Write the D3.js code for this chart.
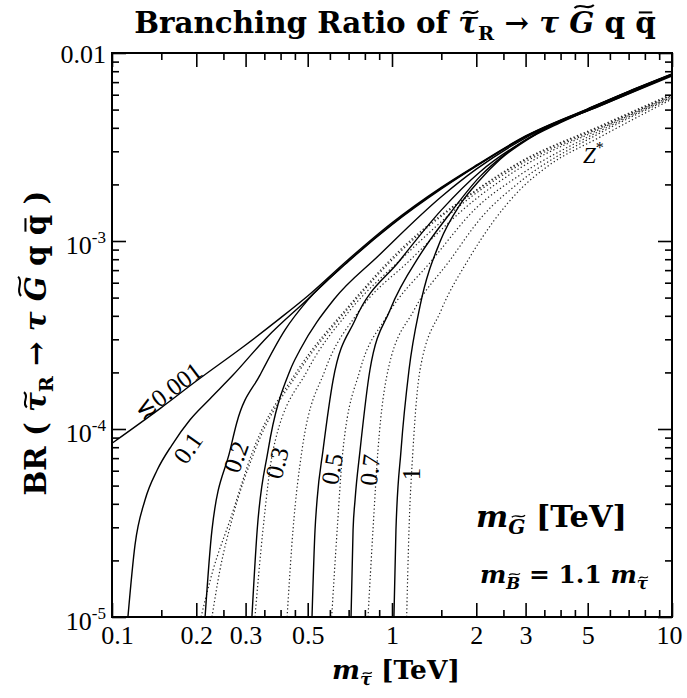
<!DOCTYPE html>
<html>
<head>
<meta charset="utf-8">
<script src="https://cdn.jsdelivr.net/npm/d3@7"></script>
<style>
  body { margin: 0; background: #fff; }
  text { fill: #000; }
</style>
</head>
<body>
<svg id="chart" width="687" height="698"></svg>
<script>
// ---- axis ticks ----
const xMajorTicks = [0.1, 0.2, 0.3, 0.5, 1, 2, 3, 5, 10];
const xTickLabels = ["0.1", "0.2", "0.3", "0.5", "1", "2", "3", "5", "10"];
const xMinorTicks = [0.15, 0.25, 0.35, 0.4, 0.45, 0.6, 0.7, 0.8, 0.9, 1.5, 2.5, 3.5, 4, 4.5, 6, 7, 8, 9];
const yMajorTicks = [1e-5, 1e-4, 1e-3, 1e-2];
const yTickBase = ["10", "10", "10", "0.01"];
const yTickExp = ["-5", "-4", "-3", ""];
const yMinorTicks = [2e-5, 3e-5, 4e-5, 5e-5, 6e-5, 7e-5, 8e-5, 9e-5,
                     2e-4, 3e-4, 4e-4, 5e-4, 6e-4, 7e-4, 8e-4, 9e-4,
                     2e-3, 3e-3, 4e-3, 5e-3, 6e-3, 7e-3, 8e-3, 9e-3];

// ---- gravitino masses (TeV) labelling each pair of curves ----
const gravitinoLabels = ["\u22720.001", "0.1", "0.2", "0.3", "0.5", "0.7", "1"];

// ---- total BR(stau_R -> tau G q qbar): [m_stau (TeV), BR] ----
const totalLe0001 = [[0.1, 8.4e-5], [0.15, 1.3e-4], [0.2, 1.8e-4], [0.3, 2.8e-4], [0.4, 3.9e-4], [0.5, 5.1e-4],
  [0.7, 8.0e-4], [1, 1.25e-3], [1.5, 1.93e-3], [2, 2.53e-3], [3, 3.62e-3], [5, 5.05e-3], [7, 6.25e-3], [10, 7.73e-3]];
const total01 = [[0.114, 1e-5], [0.1208, 2.41e-5], [0.1312, 4.19e-5], [0.145, 6.05e-5], [0.1637, 8.22e-5],
  [0.19, 1.12e-4], [0.224, 1.45e-4], [0.27, 1.93e-4], [0.358, 3.08e-4], [0.5, 4.9e-4], [0.7, 7.85e-4],
  [1, 1.23e-3], [1.5, 1.91e-3], [2, 2.51e-3], [3, 3.6e-3], [5, 5.03e-3], [7, 6.23e-3], [10, 7.71e-3]];
const total02 = [[0.215, 1e-5], [0.2275, 2.9e-5], [0.264, 7.7e-5], [0.279, 1.08e-4], [0.338, 1.94e-4], [0.415, 3.37e-4],
  [0.5, 4.85e-4], [0.7, 7.8e-4], [1, 1.22e-3], [1.5, 1.89e-3], [2, 2.5e-3], [3, 3.59e-3], [5, 5.02e-3],
  [7, 6.22e-3], [10, 7.7e-3]];
const total03 = [[0.316, 1e-5], [0.33, 2.9e-5], [0.361, 7.7e-5], [0.433, 2.06e-4], [0.469, 2.63e-4], [0.621, 4.9e-4],
  [0.891, 8.3e-4], [1.5, 1.72e-3], [2, 2.41e-3], [3, 3.54e-3], [5, 4.98e-3], [7, 6.19e-3], [10, 7.68e-3]];
const total05 = [[0.518, 1e-5], [0.531, 2.9e-5], [0.54, 4.2e-5], [0.567, 7.7e-5], [0.616, 1.82e-4], [0.738, 3.8e-4],
  [1.068, 7.9e-4], [1.5, 1.46e-3], [2.06, 2.33e-3], [2.86, 3.3e-3], [3.98, 4.25e-3], [5.53, 5.28e-3], [10, 7.64e-3]];
const total07 = [[0.714, 1e-5], [0.726, 2.9e-5], [0.738, 4.2e-5], [0.769, 7.7e-5], [0.834, 2.06e-4], [0.984, 4.3e-4],
  [1.259, 8.43e-4], [1.61, 1.4e-3], [2.06, 2.2e-3], [2.6, 2.98e-3], [3.3, 3.76e-3], [5.53, 5.23e-3], [10, 7.64e-3]];
const total1 = [[1.016, 1e-5], [1.033, 2.9e-5], [1.077, 7.7e-5], [1.15, 2.06e-4], [1.259, 4.5e-4], [1.484, 9.9e-4],
  [1.75, 1.56e-3], [2.06, 2.11e-3], [2.43, 2.71e-3], [3.3, 3.73e-3], [5.53, 5.23e-3], [10, 7.55e-3]];

// ---- Z* contribution only (dotted): [m_stau (TeV), BR] ----
const zLe0001 = [[0.208, 1e-5], [0.2296, 1.78e-5], [0.264, 3.28e-5], [0.319, 7.7e-5], [0.461, 2.06e-4], [0.7, 4.5e-4],
  [1.068, 8.95e-4], [2, 1.87e-3], [2.86, 2.63e-3], [5.53, 4.09e-3], [10, 6.05e-3]];
const z01 = [[0.2275, 1e-5], [0.243, 1.78e-5], [0.268, 3.28e-5], [0.324, 7.7e-5], [0.469, 2.06e-4], [0.7, 4.4e-4],
  [1.086, 8.95e-4], [2, 1.85e-3], [2.86, 2.6e-3], [5.53, 4.04e-3], [10, 5.98e-3]];
const z02 = [[0.324, 1e-5], [0.346, 2.9e-5], [0.376, 7.7e-5], [0.5, 2.06e-4], [0.7, 4.2e-4], [1.068, 7.9e-4],
  [2, 1.8e-3], [2.86, 2.54e-3], [5.53, 3.99e-3], [10, 5.98e-3]];
const z03 = [[0.422, 1e-5], [0.443, 2.9e-5], [0.477, 7.7e-5], [0.577, 2.06e-4], [0.75, 4.1e-4], [1.159, 7.9e-4],
  [2, 1.68e-3], [2.86, 2.44e-3], [5.53, 3.94e-3], [10, 5.9e-3]];
const z05 = [[0.609, 1e-5], [0.637, 2.9e-5], [0.668, 7.7e-5], [0.769, 2.06e-4], [0.95, 3.9e-4], [1.39, 7.9e-4],
  [2, 1.5e-3], [2.86, 2.24e-3], [5.53, 3.85e-3], [10, 5.83e-3]];
const z07 = [[0.821, 1e-5], [0.855, 2.9e-5], [0.891, 7.7e-5], [0.968, 2.06e-4], [1.2, 4.3e-4], [1.61, 7.9e-4],
  [2.1, 1.35e-3], [2.86, 2.06e-3], [5.53, 3.75e-3], [10, 5.77e-3]];
const z1 = [[1.128, 1e-5], [1.15, 2.9e-5], [1.188, 7.7e-5], [1.259, 2.06e-4], [1.5, 4.3e-4], [1.868, 7.9e-4],
  [2.86, 1.87e-3], [3.6, 2.5e-3], [5.53, 3.57e-3], [10, 5.69e-3]];

const totalCurves = [totalLe0001, total01, total02, total03, total05, total07, total1];
const zCurves = [zLe0001, z01, z02, z03, z05, z07, z1];

// ---- layout ----
const W = 687, H = 698;
const frame = { left: 112, right: 672, top: 53, bottom: 617 };
const majorLen = 14, minorLen = 7;
const serif = "'Liberation Serif', 'Times New Roman', serif";
const boldFont = "'DejaVu Serif', serif";

const svg = d3.select("#chart");
const x = d3.scaleLog().domain([0.1, 10]).range([frame.left, frame.right]);
const y = d3.scaleLog().domain([1e-5, 1e-2]).range([frame.bottom, frame.top]);

svg.append("rect").attr("width", W).attr("height", H).attr("fill", "#fff");

svg.append("defs").append("clipPath").attr("id", "plotClip")
  .append("rect")
  .attr("x", frame.left).attr("y", frame.top)
  .attr("width", frame.right - frame.left).attr("height", frame.bottom - frame.top);

// ---- curves ----
const line = d3.line()
  .x(d => x(d[0]))
  .y(d => y(d[1]))
  .curve(d3.curveMonotoneX);

const curves = svg.append("g").attr("clip-path", "url(#plotClip)");

curves.selectAll("path.zstar")
  .data(zCurves)
  .join("path")
  .attr("class", "zstar")
  .attr("d", line)
  .attr("fill", "none")
  .attr("stroke", "#222")
  .attr("stroke-width", 1.2)
  .attr("stroke-dasharray", "1.3 2.4");

curves.selectAll("path.total")
  .data(totalCurves)
  .join("path")
  .attr("class", "total")
  .attr("d", line)
  .attr("fill", "none")
  .attr("stroke", "#000")
  .attr("stroke-width", 1.4);

// ---- axes: inward ticks on all four sides ----
function styleAxis(g) {
  g.select(".domain").remove();
  g.selectAll(".tick line").attr("stroke", "#000").attr("stroke-width", 1.6);
}

svg.append("g").attr("transform", `translate(0,${frame.bottom})`)
  .call(d3.axisBottom(x).tickValues(xMajorTicks).tickSize(-majorLen).tickPadding(9)
    .tickFormat((d, i) => xTickLabels[i]))
  .call(styleAxis)
  .call(g => g.selectAll(".tick text")
    .style("font-family", serif).attr("font-size", 26).attr("fill", "#000")
    .attr("dx", (d, i) => i === 0 ? 5 : (i === xMajorTicks.length - 1 ? -3 : 0)));
svg.append("g").attr("transform", `translate(0,${frame.bottom})`)
  .call(d3.axisBottom(x).tickValues(xMinorTicks).tickSize(-minorLen).tickFormat(""))
  .call(styleAxis);
svg.append("g").attr("transform", `translate(0,${frame.top})`)
  .call(d3.axisTop(x).tickValues(xMajorTicks).tickSize(-majorLen).tickFormat(""))
  .call(styleAxis);
svg.append("g").attr("transform", `translate(0,${frame.top})`)
  .call(d3.axisTop(x).tickValues(xMinorTicks).tickSize(-minorLen).tickFormat(""))
  .call(styleAxis);

svg.append("g").attr("transform", `translate(${frame.left},0)`)
  .call(d3.axisLeft(y).tickValues(yMajorTicks).tickSize(-majorLen).tickFormat(""))
  .call(styleAxis);
svg.append("g").attr("transform", `translate(${frame.left},0)`)
  .call(d3.axisLeft(y).tickValues(yMinorTicks).tickSize(-minorLen).tickFormat(""))
  .call(styleAxis);
svg.append("g").attr("transform", `translate(${frame.right},0)`)
  .call(d3.axisRight(y).tickValues(yMajorTicks).tickSize(-majorLen).tickFormat(""))
  .call(styleAxis);
svg.append("g").attr("transform", `translate(${frame.right},0)`)
  .call(d3.axisRight(y).tickValues(yMinorTicks).tickSize(-minorLen).tickFormat(""))
  .call(styleAxis);

// y tick labels (power-of-ten notation)
const yLab = svg.append("g");
yMajorTicks.forEach((v, i) => {
  const t = yLab.append("text")
    .style("font-family", serif)
    .attr("x", frame.left - 6)
    .attr("y", y(v) + (i === yMajorTicks.length - 1 ? 10 : 13))
    .attr("text-anchor", "end")
    .attr("font-size", 26);
  t.append("tspan").text(yTickBase[i]);
  if (yTickExp[i]) {
    t.append("tspan").attr("dy", -11).attr("font-size", 17).text(yTickExp[i]);
  }
});

svg.append("rect")
  .attr("x", frame.left).attr("y", frame.top)
  .attr("width", frame.right - frame.left).attr("height", frame.bottom - frame.top)
  .attr("fill", "none").attr("stroke", "#000").attr("stroke-width", 2);

// ---- curve labels ----
const labelPlacement = [
  { x: 168, y: 391, rot: -37 },
  { x: 188, y: 448, rot: -55 },
  { x: 236, y: 457, rot: -70 },
  { x: 277, y: 463, rot: -76 },
  { x: 332, y: 469, rot: -80 },
  { x: 370, y: 470, rot: -83 },
  { x: 411, y: 474, rot: -90 }
];
svg.append("g").selectAll("text")
  .data(gravitinoLabels)
  .join("text")
  .style("font-family", serif)
  .attr("transform", (d, i) => `translate(${labelPlacement[i].x},${labelPlacement[i].y}) rotate(${labelPlacement[i].rot})`)
  .attr("text-anchor", "middle")
  .attr("dominant-baseline", "central")
  .attr("font-size", 25)
  .text(d => d);

// Z* marker for the dotted family
const zl = svg.append("text").style("font-family", serif)
  .attr("x", 583).attr("y", 163).attr("font-size", 23).attr("font-style", "italic");
zl.append("tspan").text("Z");
zl.append("tspan").attr("dy", -10).attr("font-size", 16).attr("font-style", "normal").text("*");

// ---- math-style labels: tspans with subscripts and drawn accents ----
function mathText(parent, opts) {
  const g = parent.append("g")
    .attr("transform", `translate(${opts.x},${opts.y})` + (opts.rotate ? ` rotate(${opts.rotate})` : ""));
  const subScale = opts.subScale || 0.66;
  const shiftOf = p => p.sub ? 0.24 : 0;
  let size = opts.size;
  function build(s) {
    g.selectAll("*").remove();
    const t = g.append("text")
      .style("font-family", opts.family)
      .attr("text-anchor", opts.anchor || "start")
      .attr("font-weight", opts.weight || "normal")
      .attr("font-size", s);
    let prev = 0;
    opts.parts.forEach(p => {
      const sh = shiftOf(p);
      const ts = t.append("tspan").text(p.t);
      if (sh !== prev) ts.attr("dy", (sh - prev) * s);
      if (p.sub) ts.attr("font-size", s * subScale);
      if (p.italic) ts.attr("font-style", "italic");
      prev = sh;
    });
    return t;
  }
  let t = build(size);
  if (opts.width) {
    const w = t.node().getComputedTextLength();
    size = size * opts.width / w;
    t = build(size);
  }
  const node = t.node();
  const sw = (opts.weight === "bold" ? 0.07 : 0.05);
  let idx = 0;
  opts.parts.forEach(p => {
    const fs = p.sub ? size * subScale : size;
    if (p.accent) {
      const start = node.getStartPositionOfChar(idx);
      const ext = node.getExtentOfChar(idx);
      const cx = ext.x + ext.width / 2 + (p.italic ? 0.08 * fs : 0);
      if (p.accent === "tilde") {
        const w = (p.tall ? 0.66 : 0.52) * fs;
        const h = 0.1 * fs;
        const cy = start.y - (p.tall ? 0.9 : 0.7) * fs;
        const l = cx - w / 2, r = cx + w / 2;
        g.append("path")
          .attr("d", `M${l},${cy + h / 2} C${l + w / 3},${cy - h * 1.6} ${r - w / 3},${cy + h * 1.6} ${r},${cy - h / 2}`)
          .attr("fill", "none").attr("stroke", "#000").attr("stroke-width", sw * fs);
      } else if (p.accent === "bar") {
        const w = 0.46 * fs;
        const cy = start.y - 0.7 * fs;
        g.append("line")
          .attr("x1", cx - w / 2).attr("x2", cx + w / 2).attr("y1", cy).attr("y2", cy)
          .attr("stroke", "#000").attr("stroke-width", sw * fs);
      }
    }
    idx += p.t.length;
  });
  return g;
}

const decayParts = [
  { t: "\u03C4", italic: true, accent: "tilde" },
  { t: "R", sub: true },
  { t: " \u2192 " },
  { t: "\u03C4 ", italic: true },
  { t: "G", italic: true, accent: "tilde", tall: true },
  { t: " q " },
  { t: "q", accent: "bar" }
];

// title
mathText(svg, {
  x: 395, y: 33, anchor: "middle", family: boldFont, weight: "bold", size: 24, width: 522,
  parts: [{ t: "Branching Ratio of " }].concat(decayParts)
});

// y axis title
mathText(svg, {
  x: 46, y: 343, rotate: -90, anchor: "middle", family: boldFont, weight: "bold", size: 24, width: 305,
  parts: [{ t: "BR ( " }].concat(decayParts, [{ t: " )" }])
});

// x axis title
mathText(svg, {
  x: 396, y: 679, anchor: "middle", family: boldFont, weight: "bold", size: 24, width: 128,
  parts: [{ t: "m", italic: true }, { t: "\u03C4", italic: true, sub: true, accent: "tilde" }, { t: " [TeV]" }]
});

// gravitino mass legend
mathText(svg, {
  x: 476, y: 527, anchor: "start", family: boldFont, weight: "bold", size: 24, width: 151,
  parts: [{ t: "m", italic: true }, { t: "G", italic: true, sub: true, accent: "tilde", tall: true }, { t: " [TeV]" }]
});

// bino mass relation
mathText(svg, {
  x: 480, y: 583, anchor: "start", family: boldFont, weight: "bold", size: 20, width: 168,
  parts: [{ t: "m", italic: true }, { t: "B", italic: true, sub: true, accent: "tilde", tall: true },
    { t: " = 1.1 " }, { t: "m", italic: true }, { t: "\u03C4", italic: true, sub: true, accent: "tilde" }]
});
</script>
</body>
</html>
